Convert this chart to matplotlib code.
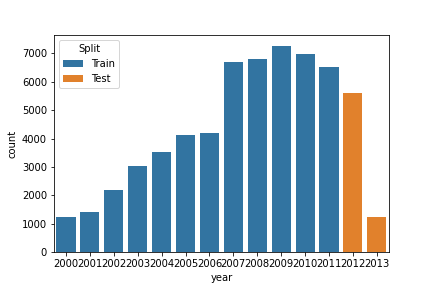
import matplotlib
matplotlib.use("Agg")
import matplotlib.pyplot as plt
import seaborn as sns
import pandas as pd

years = [2000, 2001, 2002, 2003, 2004, 2005, 2006, 2007, 2008, 2009, 2010, 2011, 2012, 2013]
counts = [1220, 1396, 2170, 3014, 3542, 4140, 4210, 6707, 6813, 7270, 6990, 6530, 5617, 1220]
split = ["Train"] * 12 + ["Test"] * 2

df = pd.DataFrame({"year": years, "count": counts, "Split": split})

fig, ax = plt.subplots(figsize=(6, 4), dpi=72)
fig.subplots_adjust(left=0.125, right=0.9, top=0.877, bottom=0.125)
sns.barplot(data=df, x="year", y="count", hue="Split", dodge=False, ax=ax,
            hue_order=["Train", "Test"], palette=["#1f77b4", "#ff7f0e"], saturation=0.75)
ax.legend(title="Split", loc="upper left")
fig.savefig("out.png", dpi=72)
